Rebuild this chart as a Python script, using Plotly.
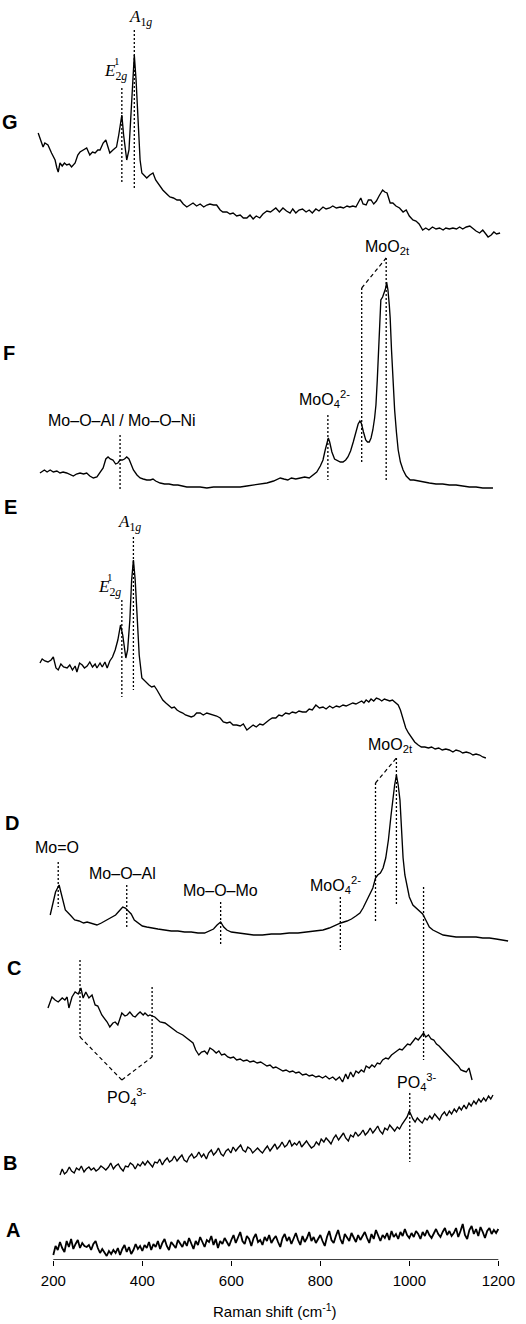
import plotly.graph_objects as go

# Raman spectra (wavenumber in cm-1, intensity in a.u.), sample A..G
A_SHIFT = list(range(200, 1201, 5))
A_INT = [-5, 4, 0, 8, 2, -2, 9, 3, 11, 1, 6, 10, 2, 7, 4, 3, 5, 0, 6, 9,
         2, -3, 1, -2, -6, -1, -4, 0, -3, 2, -5, 1, 5, -2, 3, -4, 0, 6, 1, 4,
         -1, 5, 2, 8, 0, 6, 3, 9, 1, 7, 11, 4, 0, 8, 5, 2, 10, 6, 3, 9,
         4, 12, 6, 1, 9, 5, 13, 7, 3, 10, 8, 14, 5, 11, 2, 9, 6, 12, 8, 4,
         10, 15, 7, 13, 18, 9, 6, 14, 11, 4, 12, 16, 8, 10, 5, 13, 9, 15, 7, 11,
         14, 8, 3, 12, 16, 9, 13, 6, 11, 17, 10, 5, 14, 8, 12, 18, 9, 13, 7, 11,
         15, 9, 4, 13, 19, 10, 7, 14, 20, 11, 6, 16, 12, 9, 17, 13, 8, 15, 10, 14,
         18, 12, 7, 16, 11, 20, 14, 9, 15, 12, 17, 10, 19, 13, 16, 11, 18, 14, 21, 15,
         12, 17, 13, 19, 16, 11, 18, 14, 20, 15, 12, 17, 21, 16, 13, 18, 22, 15, 19, 14,
         17, 22, 13, 19, 26, 15, 11, 20, 24, 16, 21, 14, 23, 18, 12, 19, 22, 16, 20, 17,
         21]

B_SHIFT = [215, 220, 225, 230, 236, 241, 247, 252, 258, 263, 269, 274, 280, 285, 291, 296, 302, 307,
           313, 318, 324, 329, 335, 340, 346, 351, 357, 362, 368, 373, 379, 384, 390, 395, 401, 406,
           412, 417, 423, 428, 434, 439, 445, 450, 456, 461, 467, 472, 478, 483, 489, 494, 500, 505,
           511, 516, 522, 527, 533, 538, 544, 549, 555, 560, 566, 571, 577, 582, 588, 593, 599, 604,
           610, 615, 621, 626, 632, 637, 643, 648, 654, 659, 665, 670, 676, 681, 687, 692, 698, 703,
           709, 714, 720, 725, 731, 736, 742, 747, 753, 758, 764, 769, 775, 780, 786, 791, 797, 802,
           808, 813, 819, 824, 830, 835, 841, 846, 852, 857, 863, 868, 874, 879, 885, 890, 896, 901,
           907, 912, 918, 923, 929, 934, 940, 945, 951, 956, 962, 967, 973, 978, 984, 989, 995, 1000,
           1004, 1008, 1013, 1018, 1024, 1029, 1035, 1040, 1046, 1051, 1057, 1062, 1068, 1073, 1079,
           1084, 1090, 1095, 1101, 1106, 1112, 1117, 1123, 1128, 1134, 1139, 1145, 1150, 1156, 1161,
           1167, 1172, 1178, 1183, 1188]
B_INT = [0, 6, 1, 3, 8, 4, 2, 7, 5, 9, 3, 6, 8, 5, 7, 4, 6, 9,
         7, 5, 8, 12, 6, 9, 11, 7, 4, 9, 8, 12, 10, 6, 11, 9, 13, 10,
         14, 11, 8, 13, 12, 16, 10, 14, 17, 13, 15, 19, 14, 17, 20, 15, 13, 18,
         21, 17, 19, 23, 18, 21, 16, 22, 25, 20, 23, 27, 21, 19, 24, 26, 22, 28,
         24, 27, 30, 25, 23, 28, 26, 22, 25, 27, 24, 22, 26, 29, 24, 27, 31, 26,
         29, 33, 28, 30, 35, 29, 32, 30, 34, 28, 31, 34, 30, 27, 29, 33, 30, 36,
         33, 37, 34, 31, 37, 40, 35, 38, 42, 37, 34, 40, 38, 43, 39, 41, 45, 40,
         43, 47, 42, 45, 49, 44, 41, 47, 45, 50, 46, 44, 48, 46, 51, 54, 58, 64,
         60, 56, 53, 57, 54, 52, 57, 55, 59, 56, 61, 58, 55, 60, 63,
         59, 64, 61, 66, 63, 68, 65, 70, 66, 72, 69, 74, 71, 76, 73,
         77, 74, 79, 76, 80]

C_SHIFT = [188, 197, 204, 211, 220, 226, 231, 235, 242, 249, 256, 262, 267, 273, 280, 287, 294, 300,
           309, 321, 327, 334, 339, 345, 354, 361, 366, 372, 379, 384, 390, 395, 402, 406, 413, 417,
           428, 440, 451, 462, 478, 491, 507, 514, 520,
           527, 533, 540, 546, 552, 559, 566, 572, 578, 585, 592, 598, 605, 612, 620, 627, 635, 642,
           650, 658, 666, 673, 680, 687, 694, 700, 708, 716, 723, 731, 738, 745, 752, 760, 768, 775,
           782, 790, 797, 805, 812, 820, 828, 835, 843, 850, 857, 862, 868, 874, 880, 886, 892, 898,
           903, 910, 916, 922, 928, 934, 940, 947, 953, 960, 966, 972, 978, 984, 990, 996, 1002, 1008,
           1014, 1020, 1026, 1032, 1037, 1043, 1049, 1055, 1061, 1067, 1073, 1079, 1085, 1091, 1097,
           1103, 1110, 1116, 1122, 1128, 1134, 1138, 1141]
C_INT = [72, 83, 80, 78, 82, 80, 83, 72, 83, 88, 86, 92, 82, 88, 82, 85, 75, 74,
         65, 58, 53, 57, 58, 55, 67, 64, 65, 68, 64, 63, 66, 68, 65, 67, 64, 65,
         63, 58, 57, 53, 48, 45, 40, 37, 30,
         25, 28, 29, 26, 32, 30, 27, 29, 25, 26, 23, 22, 23, 20, 21, 19, 20, 18,
         19, 17, 18, 16, 14, 15, 12, 13, 11, 9, 10, 8, 9, 7, 8, 5, 6, 4,
         5, 3, 4, 2, 4, 1, 3, 0, 3, -2, 6, 1, 8, 3, 9, 7, 10, 8,
         14, 12, 15, 13, 17, 16, 20, 22, 21, 25, 27, 29, 31, 30, 33, 36, 35, 39,
         42, 40, 44, 47, 43, 45, 41, 40, 36, 34, 31, 28, 25, 23, 20,
         17, 14, 10, 9, 8, 12, 5, 0]

D_SHIFT = [193, 199, 205, 213, 220, 227, 238, 248, 258, 268, 276, 288, 298, 308, 320, 330, 340, 348,
           356, 362, 368, 375, 382, 390, 400, 410, 420, 435, 450, 465, 480, 495, 510, 525, 540, 552,
           560, 568, 576, 583, 590, 600, 615, 630, 650, 670, 690, 710, 730, 750, 770, 790, 806, 820,
           830, 846, 860, 870, 880, 889, 896, 903, 910, 918, 924, 929, 935, 941, 947, 953, 959, 963,
           967, 971, 975, 979, 983, 986, 990, 995, 1000, 1008, 1015, 1024, 1030, 1037, 1045, 1053,
           1062, 1076, 1090, 1105, 1120, 1136, 1150, 1165, 1180, 1195, 1210, 1222]
D_INT = [25, 38, 48, 55, 42, 30, 25, 20, 19, 17, 18, 16, 15, 17, 20, 22, 25, 29,
         33, 32, 29, 26, 20, 17, 14, 13, 12, 11, 10, 9, 9, 8, 8, 7, 7, 9,
         11, 15, 18, 13, 10, 8, 7, 6, 5, 5, 6, 6, 7, 7, 8, 9, 10, 12,
         14, 17, 19, 21, 24, 27, 32, 38, 45, 52, 62, 65, 67, 72, 82, 100, 125, 142,
         155, 165, 155, 140, 110, 82, 65, 52, 43, 35, 32, 28, 26, 20, 13, 10,
         8, 5, 4, 3, 3, 3, 3, 2, 2, 1, 0, -1]

E_SHIFT = [170, 175, 181, 188, 195, 200, 206, 211, 217, 223, 231, 237, 243, 249, 253, 259, 265, 270,
           276, 282, 288, 294, 298, 305, 310, 316, 321, 327, 333, 339, 345, 351, 356, 360, 363, 367,
           372, 376, 380, 384, 388, 393, 399, 405, 410, 415, 421, 427, 433, 440, 446, 453, 459, 466,
           472, 478, 485, 491, 497, 503, 510, 516, 522, 530, 537, 545, 552, 560, 567, 575, 582, 590,
           597, 604, 612, 620, 627, 635, 642, 649, 656, 664, 671, 678, 685, 692, 700, 707, 714, 722,
           730, 737, 745, 752, 760, 768, 775, 782, 790, 798, 806, 813, 821, 828, 836, 843, 851, 858,
           866, 873, 880, 887, 893, 898, 903, 909, 914, 920, 926, 932, 938, 944, 950, 956, 962, 968,
           975, 980, 986, 992, 998, 1005, 1012, 1020, 1027, 1035, 1043, 1050, 1058, 1066, 1074, 1082,
           1090, 1098, 1105, 1113, 1120, 1128, 1136, 1143, 1150, 1158, 1165, 1172]
E_INT = [92, 96, 94, 93, 95, 98, 87, 85, 91, 88, 87, 90, 85, 89, 83, 92, 90, 87,
         89, 93, 88, 91, 87, 92, 88, 93, 87, 94, 98, 105, 115, 130, 120, 105, 97, 105,
         135, 175, 195, 175, 140, 100, 77, 74, 72, 70, 68, 69, 65, 60, 55, 52, 50, 47,
         48, 45, 43, 42, 40, 39, 38, 39, 42, 42, 40, 42, 41, 40, 39, 37, 33, 32,
         33, 30, 30, 29, 31, 25, 28, 30, 28, 31, 30, 33, 35, 37, 37, 40, 39, 42,
         41, 43, 42, 44, 43, 43, 46, 45, 50, 47, 48, 46, 49, 47, 49, 48, 50, 49,
         51, 52, 51, 53, 54, 52, 55, 53, 56, 54, 57, 56, 54, 56, 55, 54, 55, 53,
         50, 45, 35, 27, 22, 17, 13, 10, 8, 8, 7, 8, 6, 7, 5, 6,
         5, 3, 5, 4, 2, 3, 2, 0, 1, 0, -2, -3]

F_SHIFT = [170, 175, 180, 186, 193, 200, 208, 215, 222, 230, 238, 245, 252, 260, 268, 275, 282, 290,
           298, 305, 312, 318, 323, 328, 334, 340, 345, 350, 355, 360, 365, 370, 375, 380, 388, 395,
           402, 410, 418, 424, 430, 440, 450, 460, 470, 480, 490, 500, 515, 530, 545, 560, 575, 590,
           605, 620, 635, 650, 665, 680, 695, 700, 710, 718, 727, 735, 745, 755, 765, 775, 785, 792,
           800, 806, 811, 815, 818, 821, 826, 832, 839, 845, 851, 857, 862, 868, 874, 880, 885, 889,
           892, 897, 902, 906, 910, 914, 918, 922, 925, 928, 931, 934, 936, 940, 944, 947, 949, 952,
           955, 957, 960, 963, 967, 971, 975, 980, 986, 993, 1002, 1010, 1020, 1030, 1045, 1060, 1075,
           1090, 1105, 1120, 1135, 1150, 1165, 1180, 1188]
F_INT = [17, 19, 20, 18, 20, 18, 19, 17, 18, 17, 15, 14, 16, 17, 16, 17, 14, 12,
         13, 17, 22, 31, 33, 31, 30, 26, 27, 30, 30, 31, 33, 31, 25, 20, 15, 12,
         11, 10, 10, 11, 9, 7, 6, 6, 5, 5, 4, 3, 3, 3, 2, 3, 3, 3,
         3, 3, 4, 5, 6, 7, 9, 10, 12, 11, 10, 12, 11, 12, 13, 12, 15, 18,
         24, 30, 40, 49, 52, 48, 38, 31, 29, 28, 28, 30, 33, 39, 48, 58, 66, 69,
         67, 58, 50, 48, 48, 52, 60, 72, 85, 110, 145, 175, 190, 193, 198, 202, 208, 200,
         185, 172, 140, 107, 80, 58, 40, 28, 20, 14, 10, 10, 9, 8, 7, 6, 6,
         5, 5, 4, 3, 3, 2, 2, 2]

G_SHIFT = [166, 177, 181, 188, 196, 204, 208, 211, 215, 220, 225, 230, 236, 241, 249, 255, 260, 268,
           275, 282, 288, 294, 300, 305, 312, 318, 323, 327, 334, 342, 347, 354, 358, 363, 365, 370,
           375, 379, 382, 386, 390, 395, 399, 405, 410, 417, 424, 430, 436, 442, 446, 455, 462, 470,
           478, 485, 492, 500, 508, 514, 522, 530, 538, 545, 552, 560, 567, 575, 581, 590, 597, 604,
           612, 620, 627, 635, 642, 649, 656, 664, 671, 680, 688, 695, 700, 708, 716, 724, 732, 738,
           745, 752, 760, 768, 775, 782, 790, 797, 806, 813, 821, 828, 836, 845, 852, 860, 866, 873,
           880, 886, 891, 896, 903, 908, 914, 920, 926, 932, 940, 945, 950, 957, 963, 970, 978, 986,
           993, 1000, 1008, 1015, 1022, 1030, 1037, 1044, 1052, 1060, 1068, 1076, 1082, 1090, 1098,
           1106, 1113, 1120, 1128, 1136, 1143, 1150, 1158, 1165, 1172, 1177, 1184, 1190, 1196, 1204]
G_INT = [107, 93, 97, 95, 87, 80, 72, 68, 77, 74, 77, 75, 76, 73, 77, 85, 88, 90,
         92, 85, 88, 87, 90, 90, 97, 100, 92, 87, 90, 93, 105, 125, 105, 85, 80, 90,
         130, 160, 185, 160, 123, 80, 67, 64, 62, 65, 67, 60, 56, 53, 50, 46, 43, 42,
         40, 40, 36, 33, 35, 37, 34, 36, 33, 35, 36, 35, 35, 30, 28, 28, 26, 27,
         24, 25, 22, 22, 25, 21, 24, 22, 26, 29, 28, 30, 32, 28, 32, 29, 27, 31,
         27, 30, 31, 28, 30, 27, 31, 29, 33, 31, 32, 34, 32, 33, 32, 34, 33, 34,
         33, 38, 42, 36, 35, 40, 40, 36, 39, 44, 50, 48, 47, 37, 37, 34, 32, 28,
         30, 24, 20, 19, 16, 10, 12, 10, 13, 11, 12, 10, 12, 11, 12,
         11, 13, 11, 13, 14, 11, 9, 7, 10, 6, 3, 5, 8, 6, 7]

SPECTRA = [("A", A_SHIFT, A_INT), ("B", B_SHIFT, B_INT), ("C", C_SHIFT, C_INT),
           ("D", D_SHIFT, D_INT), ("E", E_SHIFT, E_INT), ("F", F_SHIFT, F_INT),
           ("G", G_SHIFT, G_INT)]
OFFSETS = {"A": 10, "B": 85, "C": 180, "D": 320, "E": 505, "F": 770, "G": 1020}
TICKS = [200, 400, 600, 800, 1000, 1200]

SANS = "Arial, Liberation Sans, sans-serif"
SERIF = "Liberation Serif, DejaVu Serif, serif"

fig = go.Figure()
for name, x, y in SPECTRA:
    off = OFFSETS[name]
    fig.add_trace(go.Scatter(
        x=x, y=[v + off for v in y], mode="lines",
        line=dict(color="black", width=1.8 if name == "A" else 1.35),
        hoverinfo="skip", showlegend=False,
    ))

# dashed peak markers (wavenumber, y top, y bottom)
marks = [
    (354, 1172, 1077), (382, 1230, 1072),                       # G
    (350, 825, 770), (817, 845, 780), (893, 972, 798), (948, 1002, 778),  # F
    (354, 660, 563), (380, 723, 570),                           # E
    (211, 398, 353), (365, 375, 332), (576, 358, 315), (845, 363, 310),
    (924, 477, 337), (971, 502, 355), (1032, 373, 200),         # D
    (260, 300, 223), (422, 273, 203),                           # C
    (1001, 167, 98),                                            # B
]
for xm, y0, y1 in marks:
    fig.add_shape(type="line", xref="x", yref="y", x0=xm, x1=xm, y0=y0, y1=y1,
                  line=dict(color="black", width=1.3, dash="2px,2px"))

diags = [((893, 972), (948, 1002)), ((924, 477), (971, 502)),
         ((260, 223), (354, 180)), ((354, 180), (422, 203))]
for (xa, ya), (xb, yb) in diags:
    fig.add_shape(type="line", xref="x", yref="y", x0=xa, x1=xb, y0=ya, y1=yb,
                  line=dict(color="black", width=1.2, dash="4px,3px"))

# x axis line
fig.add_shape(type="line", xref="x", yref="y", x0=200, x1=1200, y0=0, y1=0,
              line=dict(color="black", width=1.3))


def note(x, y, text, size=16, family=SANS, bold=False, xanchor="center"):
    fig.add_annotation(x=x, y=y, xref="x", yref="y", text=f"<b>{text}</b>" if bold else text,
                       showarrow=False, xanchor=xanchor, yanchor="middle",
                       font=dict(family=family, size=size, color="black"))


for name, xl, yl in [("G", 103, 1138), ("F", 100, 907), ("E", 103, 753), ("D", 107, 437),
                     ("C", 112, 292), ("B", 103, 97), ("A", 109, 30)]:
    note(xl, yl, name, size=20, bold=True)

note(397, 1242, "<i>A</i><sub>1<i>g</i></sub>", size=17, family=SERIF)
note(310, 1188, "<i>E</i><sub>2<i>g</i></sub>", size=17, family=SERIF, xanchor="left")
note(343, 1199, "1", size=11, family=SERIF)
note(372, 737, "<i>A</i><sub>1<i>g</i></sub>", size=17, family=SERIF)
note(295, 672, "<i>E</i><sub>2<i>g</i></sub>", size=17, family=SERIF, xanchor="left")
note(328, 683, "1", size=11, family=SERIF)

note(355, 840, "Mo–O–Al / Mo–O–Ni")
note(810, 861, "MoO<sub>4</sub><sup>2-</sup>")
note(952, 1013, "MoO<sub>2t</sub>")
note(209, 413, "Mo=O")
note(355, 387, "Mo–O–Al")
note(576, 370, "Mo–O–Mo")
note(835, 375, "MoO<sub>4</sub><sup>2-</sup>")
note(957, 515, "MoO<sub>2t</sub>")
note(365, 163, "PO<sub>4</sub><sup>3-</sup>")
note(1017, 178, "PO<sub>4</sub><sup>3-</sup>")

fig.add_annotation(x=698, y=-50 / 1260, xref="x", yref="paper",
                   text="Raman shift (cm<sup>-1</sup>)", showarrow=False,
                   xanchor="center", yanchor="middle",
                   font=dict(family=SANS, size=15, color="black"))

fig.update_layout(
    width=526, height=1324,
    margin=dict(l=0, r=0, t=0, b=64),
    plot_bgcolor="white", paper_bgcolor="white",
    showlegend=False,
    xaxis=dict(range=[80.2, 1262.2], tickvals=TICKS, ticks="outside", ticklen=5,
               tickcolor="black", tickwidth=1.2, showline=False, showgrid=False,
               zeroline=False, automargin=False, ticklabelstandoff=2,
               tickfont=dict(family=SANS, size=15, color="black")),
    yaxis=dict(range=[0, 1260], visible=False, showgrid=False, zeroline=False,
               automargin=False),
)

# the page's default 8px body margin would shift the figure; drop it
fig.write_html("out.html", config={"displayModeBar": False},
               post_script="document.body.style.margin='0';document.body.style.overflow='hidden';")
